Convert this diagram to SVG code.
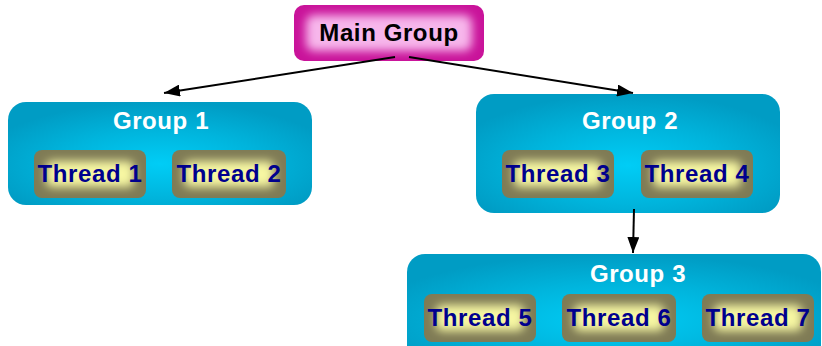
<svg xmlns="http://www.w3.org/2000/svg" width="822" height="346" viewBox="0 0 822 346">
  <defs>
    <radialGradient id="gGroup" cx="0.5" cy="0.6" r="0.6">
      <stop offset="0" stop-color="#00cdf6"/>
      <stop offset="0.55" stop-color="#00b4dc"/>
      <stop offset="1" stop-color="#009cc4"/>
    </radialGradient>
    <filter id="soft" x="-20%" y="-40%" width="140%" height="180%">
      <feGaussianBlur stdDeviation="5"/>
    </filter>
    <filter id="softS" x="-20%" y="-40%" width="140%" height="180%">
      <feGaussianBlur stdDeviation="5"/>
    </filter>
    <marker id="arrow" viewBox="0 0 16 12" refX="16" refY="6" markerWidth="16" markerHeight="12" markerUnits="userSpaceOnUse" orient="auto">
      <path d="M0,0 L16,6 L0,12 Z" fill="#000"/>
    </marker>
    <clipPath id="cMain"><rect x="294" y="5" width="190" height="56" rx="10"/></clipPath>
    <clipPath id="cT1"><rect x="34" y="150" width="112" height="48" rx="8"/></clipPath>
    <clipPath id="cT2"><rect x="172" y="150" width="114" height="48" rx="8"/></clipPath>
    <clipPath id="cT3"><rect x="502" y="150" width="112" height="48" rx="8"/></clipPath>
    <clipPath id="cT4"><rect x="641" y="150" width="112" height="48" rx="8"/></clipPath>
    <clipPath id="cT5"><rect x="424" y="294" width="112" height="48" rx="8"/></clipPath>
    <clipPath id="cT6"><rect x="562" y="294" width="114" height="48" rx="8"/></clipPath>
    <clipPath id="cT7"><rect x="702" y="294" width="112" height="48" rx="8"/></clipPath>
  </defs>
  <style>
    .label { font-family: "Liberation Sans", Arial, sans-serif; font-weight: bold; font-size: 24px; text-anchor: middle; letter-spacing: 0.6px; }
    .main-text { fill: #000; }
    .group-text { fill: #ffffff; }
    .thread-text { fill: #00008e; }
    .group-box { fill: url(#gGroup); }
    .thread-edge { fill: #7f7b55; }
    .thread-core { fill: #f6f6a2; filter: url(#softS); }
    .main-edge { fill: #c9139a; }
    .main-core { fill: #f7b6eb; filter: url(#soft); }
    .link { stroke: #000; stroke-width: 2; fill: none; marker-end: url(#arrow); }
  </style>

  <!-- root node -->
  <g id="main-group">
    <rect class="main-edge" x="294" y="5" width="190" height="56" rx="10"/>
    <g clip-path="url(#cMain)">
      <rect class="main-core" x="306" y="15" width="166" height="36" rx="8"/>
    </g>
    <text class="label main-text" x="389" y="41">Main Group</text>
  </g>

  <!-- group 1 -->
  <g id="group-1">
    <rect class="group-box" x="8" y="102" width="304" height="103" rx="18"/>
    <text class="label group-text" x="161" y="129">Group 1</text>
    <g id="thread-1">
      <rect class="thread-edge" x="34" y="150" width="112" height="48" rx="8"/>
      <g clip-path="url(#cT1)"><rect class="thread-core" x="46" y="161" width="88" height="26" rx="6"/></g>
      <text class="label thread-text" x="90" y="182">Thread 1</text>
    </g>
    <g id="thread-2">
      <rect class="thread-edge" x="172" y="150" width="114" height="48" rx="8"/>
      <g clip-path="url(#cT2)"><rect class="thread-core" x="184" y="161" width="90" height="26" rx="6"/></g>
      <text class="label thread-text" x="229" y="182">Thread 2</text>
    </g>
  </g>

  <!-- group 2 -->
  <g id="group-2">
    <rect class="group-box" x="476" y="94" width="304" height="119" rx="18"/>
    <text class="label group-text" x="630" y="129">Group 2</text>
    <g id="thread-3">
      <rect class="thread-edge" x="502" y="150" width="112" height="48" rx="8"/>
      <g clip-path="url(#cT3)"><rect class="thread-core" x="514" y="161" width="88" height="26" rx="6"/></g>
      <text class="label thread-text" x="558" y="182">Thread 3</text>
    </g>
    <g id="thread-4">
      <rect class="thread-edge" x="641" y="150" width="112" height="48" rx="8"/>
      <g clip-path="url(#cT4)"><rect class="thread-core" x="653" y="161" width="88" height="26" rx="6"/></g>
      <text class="label thread-text" x="697" y="182">Thread 4</text>
    </g>
  </g>

  <!-- group 3 -->
  <g id="group-3">
    <rect class="group-box" x="407" y="254" width="414" height="110" rx="18"/>
    <text class="label group-text" x="638" y="282">Group 3</text>
    <g id="thread-5">
      <rect class="thread-edge" x="424" y="294" width="112" height="48" rx="8"/>
      <g clip-path="url(#cT5)"><rect class="thread-core" x="436" y="305" width="88" height="26" rx="6"/></g>
      <text class="label thread-text" x="480" y="326">Thread 5</text>
    </g>
    <g id="thread-6">
      <rect class="thread-edge" x="562" y="294" width="114" height="48" rx="8"/>
      <g clip-path="url(#cT6)"><rect class="thread-core" x="574" y="305" width="90" height="26" rx="6"/></g>
      <text class="label thread-text" x="619" y="326">Thread 6</text>
    </g>
    <g id="thread-7">
      <rect class="thread-edge" x="702" y="294" width="112" height="48" rx="8"/>
      <g clip-path="url(#cT7)"><rect class="thread-core" x="714" y="305" width="88" height="26" rx="6"/></g>
      <text class="label thread-text" x="758" y="326">Thread 7</text>
    </g>
  </g>

  <!-- connectors, drawn over the node edges -->
  <g id="connectors">
    <line class="link" x1="395" y1="57" x2="164" y2="93"/>
    <line class="link" x1="409" y1="57" x2="633" y2="93"/>
    <line class="link" x1="634" y1="209" x2="633" y2="253"/>
  </g>
</svg>
